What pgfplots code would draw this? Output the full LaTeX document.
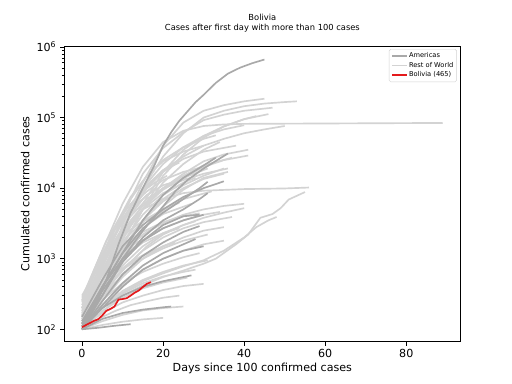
\documentclass[border=0pt]{standalone}
\usepackage{fontspec}
\setmainfont{DejaVu Sans}
\usepackage{pgfplots}
\pgfplotsset{compat=1.18}
\definecolor{amer}{RGB}{169,169,169}
\definecolor{rest}{RGB}{211,211,211}
\definecolor{bol}{RGB}{228,26,28}
\pgfplotsset{
  rl/.style={color=rest, no markers, line width=1.5pt, line join=round, forget plot},
  al/.style={color=amer, no markers, line width=1.5pt, line join=round, forget plot},
}
\begin{document}
\begin{tikzpicture}
\path[use as bounding box] (-57.6pt,-38pt) rectangle (403.2pt,307.6pt);
\begin{axis}[
  at={(0,0)}, anchor=south west,
  scale only axis, width=357.1pt, height=266.1pt,
  ymode=log, xmin=-4.45, xmax=93.45, ymin=66.5, ymax=1.03e6,
  xtick={0,20,40,60,80},
  ytick={1e2,1e3,1e4,1e5,1e6},
  yticklabels={10\textsuperscript{2},10\textsuperscript{3},10\textsuperscript{4},10\textsuperscript{5},10\textsuperscript{6}},
  /pgf/number format/assume math mode=true,
  tick label style={font=\fontsize{10}{12}\selectfont},
  tick align=outside, xtick pos=bottom, ytick pos=left,
  major tick length=3.5pt, minor tick length=2pt,
  every tick/.style={black, line width=0.6pt},
  axis line style={line width=0.8pt},
  xlabel={Days since 100 confirmed cases},
  ylabel={Cumulated confirmed cases},
  label style={font=\fontsize{10}{12}\selectfont},
  xlabel style={at={(axis description cs:0.5,0)}, anchor=center, yshift=-23.6pt},
  ylabel style={at={(axis description cs:-0.098,0.5)}, anchor=center},
  title={Bolivia\\Cases after first day with more than 100 cases},
  title style={font=\fontsize{7.5}{9}\selectfont, align=center, at={(0.5,1)}, anchor=south, inner sep=0pt, yshift=6pt},
  legend style={at={(1,1)}, anchor=north east, xshift=-3.5pt, yshift=-2.6pt,
    font=\fontsize{6}{7}\selectfont, draw=rest, rounded corners=1.5pt,
    row sep=0.6pt, inner sep=2pt, nodes={inner sep=1pt}},
  legend cell align=left,
  legend image code/.code={\draw[#1, line width=1.5pt] (0pt,0pt) -- (13.5pt,0pt);},
]
\addlegendimage{color=amer}
\addlegendentry{Americas}
\addlegendimage{color=rest}
\addlegendentry{Rest of World}
\addlegendimage{color=bol}
\addlegendentry{Bolivia (465)}
% ---------------- Rest of World ----------------
\addplot[rl] coordinates {(0,280) (5,1300) (10,6000) (15,20000) (20,45000) (25,65000) (30,76000) (35,80000) (40,81500) (50,82000) (60,82500) (70,83000) (80,83500) (89,84000)};
\addplot[rl] coordinates {(0,150) (5,650) (10,2500) (15,10000) (20,28000) (25,60000) (30,100000) (35,125000) (40,145000) (45,158000) (50,166000) (53,170000)};
\addplot[rl] coordinates {(0,120) (5,500) (10,3000) (15,12000) (20,40000) (25,85000) (30,125000) (35,150000) (40,170000) (45,185000)};
\addplot[rl] coordinates {(0,130) (5,800) (10,4000) (15,16000) (20,37000) (25,62000) (30,92000) (35,110000) (40,125000) (47,138000)};
\addplot[rl] coordinates {(0,100) (5,400) (10,1500) (15,5000) (20,15000) (25,30000) (30,52000) (35,75000) (40,95000) (46,112000)};
\addplot[rl] coordinates {(0,140) (5,600) (10,2500) (15,9000) (20,18000) (25,28000) (30,40000) (35,50000) (40,60000) (45,68000) (50,76000)};
\addplot[rl] coordinates {(0,110) (5,500) (10,2000) (15,6000) (20,17000) (25,35000) (30,55000) (35,75000) (40,95000) (43,105000)};
\addplot[rl] coordinates {(0,200) (5,900) (10,3500) (15,10000) (20,22000) (25,38000) (30,55000) (35,68000) (40,78000)};
\addplot[rl] coordinates {(0,120) (5,350) (10,1500) (15,5000) (20,12000) (25,22000) (30,35000) (34,45000)};
\addplot[rl] coordinates {(0,150) (5,600) (10,2000) (15,5000) (20,10000) (25,16000) (30,24000) (35,30000) (41,35000)};
\addplot[rl] coordinates {(0,100) (5,350) (10,1200) (15,3500) (20,8000) (25,14000) (30,20000) (35,25000) (41,29000)};
\addplot[rl] coordinates {(0,180) (4,600) (8,1800) (12,4000) (16,7000) (20,10000) (25,13000) (30,16000) (36,19000)};
\addplot[rl] coordinates {(0,130) (5,450) (10,1400) (15,3500) (20,6500) (25,10000) (30,13500) (35,16000)};
\addplot[rl] coordinates {(0,250) (4,900) (8,2500) (12,5500) (16,9000) (20,13000) (25,17000) (30,20000)};
\addplot[rl] coordinates {(0,100) (5,300) (10,900) (15,2500) (20,5500) (25,9500) (30,14000) (36,17000)};
\addplot[rl] coordinates {(0,120) (5,500) (10,1700) (15,4200) (20,8000) (25,12000) (28,14000)};
\addplot[rl] coordinates {(0,200) (5,700) (10,2200) (15,5000) (20,8500) (24,11000)};
\addplot[rl] coordinates {(0,100) (5,180) (10,300) (15,420) (20,550) (25,680) (30,850) (33,1000) (38,1600) (41,2200) (44,3800) (47,4300) (49,5200) (51,6900) (55,8800)};
\addplot[rl] coordinates {(0,150) (5,800) (10,2500) (15,5000) (20,7000) (25,8500) (30,9200) (40,9700) (50,9900) (56,10200)};
\addplot[rl] coordinates {(0,110) (5,200) (10,330) (15,480) (20,620) (25,780) (30,950) (35,1300) (40,2000) (43,2800) (46,3500) (48,3900)};
\addplot[rl] coordinates {(0,150) (5,500) (10,1200) (15,2200) (20,3200) (25,4200) (30,5000) (35,5600) (40,6000)};
\addplot[rl] coordinates {(0,120) (5,400) (10,1000) (15,1800) (20,2700) (25,3500) (30,4200) (34,4600)};
\addplot[rl] coordinates {(0,200) (5,600) (10,1400) (15,2400) (20,3300) (25,4000) (29,4400)};
\addplot[rl] coordinates {(0,100) (5,300) (10,700) (15,1300) (20,2000) (25,2700) (30,3300) (37,3900)};
\addplot[rl] coordinates {(0,130) (5,350) (10,800) (15,1500) (20,2300) (25,3000) (28,3400)};
\addplot[rl] coordinates {(0,160) (5,450) (10,1000) (15,1700) (20,2300) (24,2700)};
\addplot[rl] coordinates {(0,100) (5,250) (10,550) (15,1000) (20,1500) (25,2000) (30,2500) (35,2800)};
\addplot[rl] coordinates {(0,110) (5,280) (10,600) (15,1000) (20,1400) (25,1800) (31,2200)};
\addplot[rl] coordinates {(0,140) (5,350) (10,700) (15,1100) (20,1500) (23,1700)};
\addplot[rl] coordinates {(0,100) (5,220) (10,420) (15,700) (20,1000) (25,1300) (30,1600) (35,1800)};
\addplot[rl] coordinates {(0,120) (5,260) (10,450) (15,650) (20,850) (25,1050) (29,1200)};
\addplot[rl] coordinates {(0,100) (5,200) (10,350) (15,500) (20,650) (25,800) (31,950)};
\addplot[rl] coordinates {(0,110) (5,200) (10,320) (15,450) (20,560) (25,650) (28,700)};
\addplot[rl] coordinates {(0,100) (5,180) (10,280) (15,380) (20,460) (26,540)};
\addplot[rl] coordinates {(0,105) (5,170) (10,240) (15,300) (20,360) (25,410) (30,440)};
\addplot[rl] coordinates {(0,100) (4,140) (8,180) (12,220) (16,250) (20,280) (24,300)};
\addplot[rl] coordinates {(0,100) (5,130) (10,160) (15,185) (20,200) (25,210)};
\addplot[rl] coordinates {(0,100) (5,115) (10,128) (15,138) (20,145)};
\addplot[rl] coordinates {(0,260) (3,700) (6,1800) (9,3500) (12,6000) (15,9000) (18,12000) (21,15000)};
\addplot[rl] coordinates {(0,150) (3,400) (6,1000) (9,2200) (12,4200) (15,7000) (18,10000)};
\addplot[rl] coordinates {(0,300) (3,600) (6,1100) (9,1800) (12,2600) (15,3400) (18,4000)};
\addplot[rl] coordinates {(0,200) (3,400) (6,700) (9,1100) (12,1500) (15,1900)};
\addplot[rl] coordinates {(0,150) (4,400) (8,900) (12,1600) (16,2400) (20,3200) (26,4200)};
\addplot[rl] coordinates {(0,100) (4,300) (8,800) (12,2000) (16,4000) (20,7000) (25,11000) (30,15000) (35,19000)};
\addplot[rl] coordinates {(0,130) (4,250) (8,500) (12,900) (16,1500) (20,2200) (25,3000) (30,3800) (35,4500) (40,5200)};
\addplot[rl] coordinates {(0,220) (4,800) (8,2800) (12,7500) (16,15000) (20,24000) (25,33000) (30,40000)};
\addplot[rl] coordinates {(0,170) (4,500) (8,1500) (12,3500) (16,6500) (20,10000) (25,15000) (30,21000) (37,27000)};
\addplot[rl] coordinates {(0,120) (4,250) (8,450) (12,750) (16,1100) (20,1500) (22,1650)};
\addplot[rl] coordinates {(0,180) (4,350) (8,600) (12,900) (16,1200) (19,1400)};
\addplot[rl] coordinates {(0,200) (4,700) (8,2500) (12,7000) (16,15000) (20,25000) (25,38000) (30,50000) (33,56000)};
\addplot[rl] coordinates {(0,130) (4,450) (8,1500) (12,4500) (16,10000) (20,17000) (25,26000) (30,33000) (38,40000)};
\addplot[rl] coordinates {(0,160) (4,600) (8,2000) (12,5500) (16,11000) (20,18000) (24,23000)};
\addplot[rl] coordinates {(0,110) (4,350) (8,1100) (12,3000) (16,6000) (20,9500) (25,14000) (31,19000)};
\addplot[rl] coordinates {(0,240) (4,800) (8,2200) (12,4800) (16,8000) (20,11000) (26,14000)};
\addplot[rl] coordinates {(0,100) (4,260) (8,700) (12,1600) (16,3000) (20,4800) (25,7000) (32,9000)};
\addplot[rl] coordinates {(0,190) (4,500) (8,1200) (12,2300) (16,3700) (20,5000) (24,6200)};
\addplot[rl] coordinates {(0,140) (4,380) (8,900) (12,1800) (16,3000) (20,4300) (27,6000)};
% ---------------- Americas ----------------
\addplot[al] coordinates {(0,100) (3,200) (6,500) (9,1600) (12,4500) (15,10000) (16,13000) (18,22000) (20,40000) (22,62000) (24,90000) (26,122000) (28,165000) (30,210000) (33,310000) (36,420000) (39,510000) (42,590000) (45,665000)};
\addplot[al] coordinates {(0,120) (5,300) (10,1000) (15,2500) (20,5500) (23,9000) (26,13000) (30,19000) (36,31000)};
\addplot[al] coordinates {(0,100) (5,400) (10,1200) (15,3500) (20,8000) (25,14000) (30,21000) (33,27000)};
\addplot[al] coordinates {(0,120) (5,400) (10,1200) (15,2700) (20,4500) (25,7000) (29,10000) (31,12300)};
\addplot[al] coordinates {(0,100) (5,300) (10,900) (15,2000) (20,3500) (25,5000) (29,7000) (31,8500)};
\addplot[al] coordinates {(0,110) (5,350) (10,900) (15,1800) (20,3000) (25,4000) (29,4200)};
\addplot[al] coordinates {(0,130) (5,400) (10,1000) (15,1800) (20,2700) (25,3500) (30,4200)};
\addplot[al] coordinates {(0,100) (5,250) (10,600) (15,1100) (20,1700) (25,2400) (29,2900)};
\addplot[al] coordinates {(0,100) (5,220) (10,450) (15,800) (20,1200) (25,1600) (28,1900)};
\addplot[al] coordinates {(0,110) (5,200) (10,300) (15,400) (20,480) (25,550) (27,580)};
\addplot[al] coordinates {(0,100) (5,140) (10,170) (15,190) (20,205) (22,210)};
\addplot[al] coordinates {(0,100) (4,105) (8,112) (12,118)};
\addplot[al] coordinates {(0,100) (5,200) (10,400) (15,700) (20,1000) (25,1300) (30,1500)};
\addplot[al] coordinates {(0,150) (5,500) (10,1500) (15,3000) (20,5000) (25,7500) (30,10000) (35,12500)};
% ---------------- Bolivia ----------------
\addplot[color=bol, no markers, line width=1.5pt, line join=round, forget plot] coordinates {(0,107) (1,115) (2,123) (3,132) (4,139) (5,157) (6,183) (7,194) (8,210) (9,264) (10,268) (11,275) (12,300) (13,330) (14,354) (15,397) (16,441) (17,465)};
\end{axis}
\end{tikzpicture}
\end{document}
